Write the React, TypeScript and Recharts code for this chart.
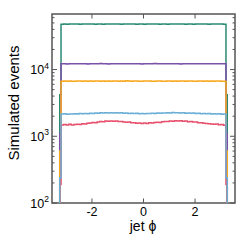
import { LineChart, Line, XAxis, YAxis, ReferenceArea } from "recharts";

// bin edges in phi: narrow edge bins outside the +-3.2 plateau
const phiEdges = [
  -3.25, -3.2, -3.1, -3.0, -2.9, -2.8, -2.7, -2.6, -2.5, -2.4, -2.3, -2.2, -2.1, -2.0,
  -1.9, -1.8, -1.7, -1.6, -1.5, -1.4, -1.3, -1.2, -1.1, -1.0, -0.9, -0.8, -0.7, -0.6,
  -0.5, -0.4, -0.3, -0.2, -0.1, 0.0, 0.1, 0.2, 0.3, 0.4, 0.5, 0.6, 0.7, 0.8, 0.9, 1.0,
  1.1, 1.2, 1.3, 1.4, 1.5, 1.6, 1.7, 1.8, 1.9, 2.0, 2.1, 2.2, 2.3, 2.4, 2.5, 2.6, 2.7,
  2.8, 2.9, 3.0, 3.1, 3.2, 3.25,
];

// counts per bin (first and last are the edge bins)
const tealCounts = [
  4200,
  47900, 48150, 47850, 48050, 48200, 47950, 48100, 47800, 48000, 48250,
  47950, 48100, 48050, 47900, 48200, 48000, 47850, 48150, 48050, 47950,
  48100, 48000, 48250, 47900, 48050, 48150, 47950, 48000, 48200, 47850,
  48100, 48050, 47900, 48150, 48000, 48250, 47950, 48100, 47850, 48050,
  48200, 47900, 48000, 48150, 48050, 47950, 48100, 48250, 47900, 48000,
  48150, 47850, 48050, 48200, 47950, 48100, 48000, 47900, 48150, 48050,
  47950, 48200, 48000, 47900,
  4200,
];

const purpleCounts = [
  1100,
  12180, 12230, 12150, 12210, 12260, 12190, 12220, 12170, 12240, 12200,
  12160, 12250, 12210, 12180, 12230, 12270, 12190, 12210, 12160, 12240,
  12200, 12220, 12180, 12260, 12210, 12170, 12230, 12200, 12250, 12190,
  12210, 12160, 12240, 12200, 12180, 12230, 12270, 12190, 12210, 12170,
  12250, 12200, 12220, 12180, 12240, 12210, 12160, 12230, 12200, 12260,
  12190, 12220, 12170, 12240, 12200, 12210, 12180, 12250, 12190, 12230,
  12200, 12170, 12220, 12190,
  1100,
];

const orangeCounts = [
  600,
  6690, 6720, 6680, 6740, 6700, 6660, 6710, 6750, 6690, 6720,
  6680, 6730, 6700, 6760, 6710, 6690, 6740, 6700, 6720, 6680,
  6750, 6710, 6690, 6730, 6700, 6770, 6720, 6690, 6710, 6740,
  6700, 6680, 6730, 6710, 6760, 6700, 6690, 6720, 6750, 6700,
  6680, 6740, 6710, 6690, 6730, 6700, 6760, 6720, 6690, 6710,
  6740, 6700, 6680, 6730, 6710, 6690, 6720, 6700, 6740, 6680,
  6710, 6730, 6690, 6700,
  600,
];

const blueCounts = [
  240,
  2150, 2175, 2140, 2165, 2150, 2180, 2160, 2190, 2175, 2200,
  2185, 2215, 2200, 2230, 2210, 2245, 2225, 2250, 2230, 2260,
  2240, 2255, 2225, 2245, 2210, 2230, 2200, 2215, 2190, 2205,
  2180, 2195, 2185, 2200, 2190, 2210, 2200, 2225, 2215, 2240,
  2225, 2255, 2240, 2265, 2245, 2260, 2235, 2250, 2220, 2240,
  2210, 2225, 2195, 2215, 2185, 2200, 2170, 2190, 2160, 2180,
  2155, 2170, 2145, 2160,
  240,
];

const redCounts = [
  190,
  1470, 1495, 1480, 1510, 1475, 1500, 1520, 1505, 1545, 1530,
  1570, 1585, 1610, 1600, 1640, 1660, 1645, 1690, 1675, 1700,
  1680, 1695, 1660, 1670, 1640, 1620, 1630, 1595, 1600, 1570,
  1585, 1560, 1575, 1560, 1590, 1585, 1610, 1625, 1615, 1650,
  1670, 1660, 1695, 1680, 1705, 1690, 1710, 1680, 1690, 1655,
  1665, 1630, 1640, 1600, 1590, 1570, 1555, 1540, 1525, 1515,
  1530, 1490, 1505, 1465,
  190,
];

const xTicks = [-2, 0, 2];
const yTicks = [
  100, 200, 300, 400, 500, 600, 700, 800, 900,
  1000, 2000, 3000, 4000, 5000, 6000, 7000, 8000, 9000,
  10000, 20000, 30000, 40000, 50000, 60000,
];

const series = [
  { key: "teal", color: "#2b8a74", counts: tealCounts },
  { key: "purple", color: "#7c52a9", counts: purpleCounts },
  { key: "orange", color: "#f9a81e", counts: orangeCounts },
  { key: "red", color: "#e8506b", counts: redCounts },
  { key: "blue", color: "#6aaed6", counts: blueCounts },
];

const FLOOR = 1; // below the axis, clipped away
const PL = 52;
const PR = 235;
const PT = 14;
const PB = 203;
const FRAME = "#555";
const FONT = "'Liberation Sans', Arial, sans-serif";

const buildRows = () => {
  const rows: any[] = [];
  const first: any = { phi: phiEdges[0] };
  series.forEach((s) => (first[s.key] = FLOOR));
  rows.push(first);
  for (let i = 0; i < phiEdges.length - 1; i++) {
    const r: any = { phi: phiEdges[i] };
    series.forEach((s) => (r[s.key] = s.counts[i]));
    rows.push(r);
  }
  const last: any = { phi: phiEdges[phiEdges.length - 1] };
  series.forEach((s) => (last[s.key] = FLOOR));
  rows.push(last);
  return rows;
};

const rows = buildRows();

const YTick = (props: any) => {
  const { y, payload } = props;
  const exp = Math.log10(payload.value);
  const major = Math.abs(exp - Math.round(exp)) < 1e-6;
  const len = major ? 5 : 2.5;
  return (
    <g>
      <line x1={PL} x2={PL + len} y1={y} y2={y} stroke={FRAME} strokeWidth={1} />
      <line x1={PR} x2={PR - len} y1={y} y2={y} stroke={FRAME} strokeWidth={1} />
      {major && (
        <text x={49} y={y + 4.5} textAnchor="end" fill="#000" fontFamily={FONT}>
          <tspan fontSize={12.5}>10</tspan>
          <tspan fontSize={8.5} dy={-5.5}>{Math.round(exp)}</tspan>
        </text>
      )}
    </g>
  );
};

const XTick = (props: any) => {
  const { x, payload } = props;
  return (
    <g>
      <line x1={x} x2={x} y1={PB} y2={PB - 4.5} stroke={FRAME} strokeWidth={1} />
      <line x1={x} x2={x} y1={PT} y2={PT + 4.5} stroke={FRAME} strokeWidth={1} />
      <text x={x} y={PB + 13} textAnchor="middle" fontSize={12.5} fill="#000" fontFamily={FONT}>
        {payload.value}
      </text>
    </g>
  );
};

export default function App() {
  return (
    <div style={{ position: "absolute", left: 0, top: 0, width: 249, height: 249, background: "#fff" }}>
      <LineChart width={249} height={249} data={rows} margin={{ top: PT, right: 249 - PR, bottom: 14, left: 12 }}>
        <XAxis
          dataKey="phi"
          type="number"
          domain={[-3.55, 3.55]}
          ticks={xTicks}
          interval={0}
          allowDataOverflow
          axisLine={false}
          tickLine={false}
          height={32}
          tick={<XTick />}
        />
        <YAxis
          type="number"
          scale="log"
          domain={[100, 68000]}
          ticks={yTicks}
          interval={0}
          allowDataOverflow
          axisLine={false}
          tickLine={false}
          width={40}
          tick={<YTick />}
        />
        {series.map((s) => (
          <Line
            key={s.key}
            dataKey={s.key}
            type="stepAfter"
            stroke={s.color}
            strokeWidth={1.5}
            dot={false}
            activeDot={false}
            isAnimationActive={false}
          />
        ))}
        <ReferenceArea x1={-3.55} x2={3.55} y1={100} y2={68000} fill="none" stroke={FRAME} strokeWidth={1.5} />
      </LineChart>
      <svg width={249} height={249} style={{ position: "absolute", left: 0, top: 0, pointerEvents: "none" }}>
        <text
          x={19}
          y={103}
          transform="rotate(-90 19 103)"
          textAnchor="middle"
          fontSize={15}
          fill="#000"
          fontFamily={FONT}
        >
          Simulated events
        </text>
        <text x={143} y={231} textAnchor="middle" fontSize={14} fill="#000" fontFamily={FONT}>
          jet ϕ
        </text>
      </svg>
    </div>
  );
}
